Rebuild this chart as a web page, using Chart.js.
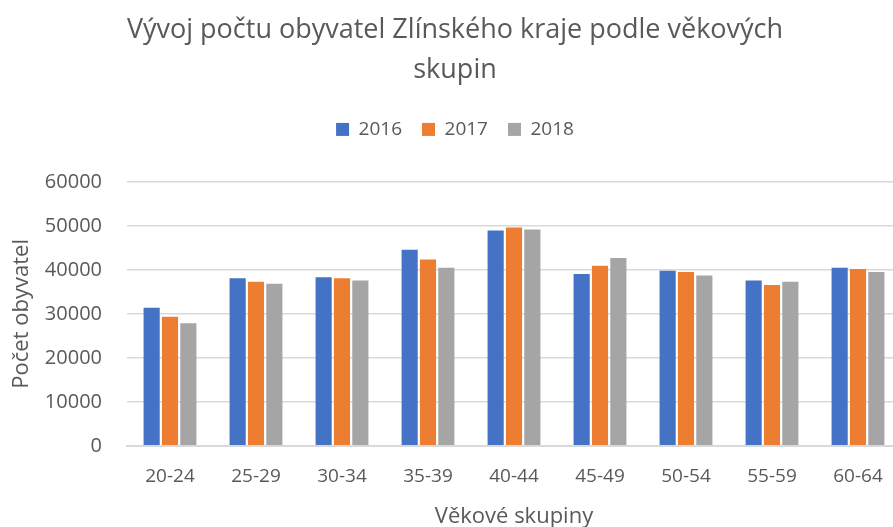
<!DOCTYPE html>
<html>
<head>
<meta charset="utf-8">
<script src="https://cdn.jsdelivr.net/npm/chart.js@4"></script>
<style>
html,body{margin:0;padding:0;background:#fff;overflow:hidden;}
#wrap{width:910px;height:527px;position:relative;}
</style>
</head>
<body>
<div id="wrap"><canvas id="c"></canvas></div>
<script>
const categories = ['20-24','25-29','30-34','35-39','40-44','45-49','50-54','55-59','60-64'];
const seriesNames = ['2016','2017','2018'];
const values2016 = [31400, 38070, 38300, 44570, 48960, 39050, 39800, 37610, 40480];
const values2017 = [29350, 37300, 38070, 42380, 49640, 40940, 39500, 36550, 40180];
const values2018 = [27850, 36850, 37600, 40480, 49190, 42680, 38750, 37300, 39500];
const colors = ['#4472C4', '#ED7D31', '#A5A5A5'];
const titleLines = ['Vývoj počtu obyvatel Zlínského kraje podle věkových', 'skupin'];
const FONT = "'Open Sans', 'Noto Sans', sans-serif";
const TXT = '#595959';

const data = {
  labels: categories,
  datasets: [values2016, values2017, values2018].map((v, i) => ({
    label: seriesNames[i],
    data: v,
    backgroundColor: colors[i],
    borderWidth: 0,
    categoryPercentage: 0.64,
    barPercentage: 0.88
  }))
};

const legendSpacer = {
  id: 'legendSpacer',
  beforeInit(chart) {
    const origFit = chart.legend.fit;
    chart.legend.fit = function () {
      origFit.call(this);
      this.height += 33;
    };
  }
};

new Chart(document.getElementById('c'), {
  type: 'bar',
  data,
  plugins: [legendSpacer],
  options: {
    responsive: true,
    maintainAspectRatio: false,
    animation: false,
    layout: { padding: { left: 9, right: 9, top: 8, bottom: 0 } },
    plugins: {
      title: {
        display: true,
        text: titleLines,
        color: TXT,
        font: { family: FONT, size: 27, weight: 'normal', lineHeight: 1.48 },
        padding: { top: 2, bottom: 10 }
      },
      legend: {
        position: 'top',
        labels: {
          color: TXT,
          font: { family: FONT, size: 19 },
          boxWidth: 13,
          boxHeight: 13,
          padding: 20
        }
      },
      tooltip: { enabled: false }
    },
    scales: {
      x: {
        grid: { display: false, drawTicks: false },
        border: { color: '#d9d9d9', width: 2 },
        ticks: { color: TXT, font: { family: FONT, size: 19 }, padding: 19 },
        title: {
          display: true,
          text: 'Věkové skupiny',
          color: TXT,
          font: { family: FONT, size: 22 },
          padding: { top: -3, bottom: -3 }
        }
      },
      y: {
        min: 0,
        max: 60000,
        afterFit: (axis) => { axis.width = 118; },
        grid: { color: '#d9d9d9', lineWidth: 1.5, drawTicks: false },
        border: { display: false },
        ticks: {
          stepSize: 10000,
          color: TXT,
          font: { family: FONT, size: 20 },
          padding: 25,
          callback: (v) => String(v)
        },
        title: {
          display: true,
          text: 'Počet obyvatel',
          color: TXT,
          font: { family: FONT, size: 22 },
          padding: { top: 0, bottom: 8 }
        }
      }
    }
  }
});
</script>
</body>
</html>
